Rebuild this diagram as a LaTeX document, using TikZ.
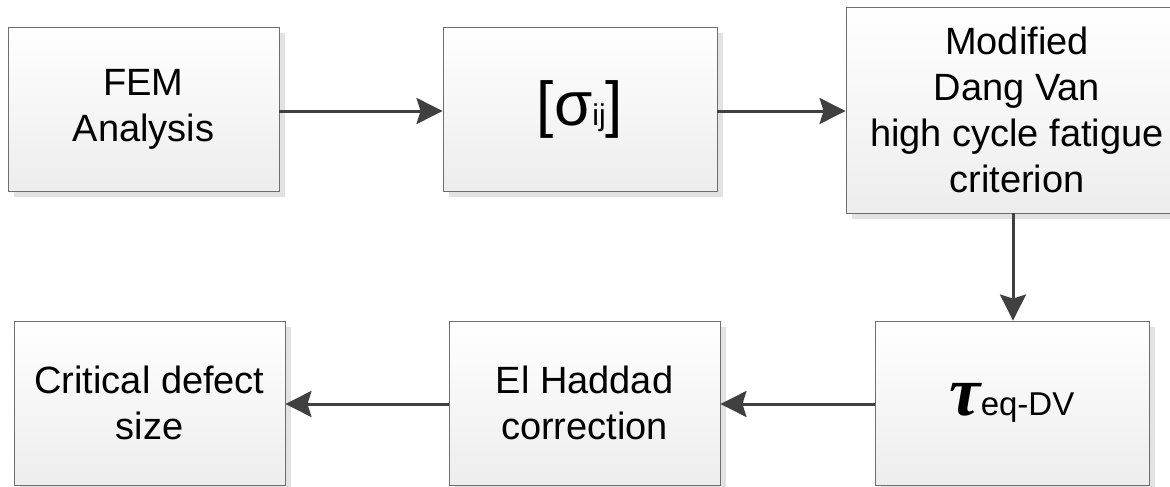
\documentclass[tikz,border=0pt]{standalone}
\usepackage{fontspec}
\setmainfont{Liberation Sans}
\newfontfamily\taufont{Liberation Serif}
\usetikzlibrary{arrows.meta,shadows}
\definecolor{boxline}{HTML}{6E6E6E}
\definecolor{shadowgray}{HTML}{E2E2E2}
\definecolor{boxbottom}{HTML}{EDEDED}
\definecolor{arrowgray}{HTML}{404040}
\tikzset{
  flowbox/.style={draw=boxline, line width=0.9pt, rectangle, inner sep=0pt,
    top color=white, bottom color=boxbottom,
    drop shadow={shadow xshift=6pt, shadow yshift=-6pt, fill=shadowgray, opacity=1},
    align=center, font=\fontsize{38}{46}\selectfont, text=black},
  flowarrow/.style={draw=arrowgray, line width=3pt,
    -{Stealth[length=26pt, width=26pt, inset=4pt]}}
}
\begin{document}
\begin{tikzpicture}[x=1pt, y=-1pt]
\useasboundingbox (0,0) rectangle (1170,487);
\node[flowbox, minimum width=271pt, minimum height=164pt] (fem) at (143.5,109) {FEM\\Analysis};
\node[flowbox, minimum width=274pt, minimum height=164pt] (sig) at (580,109)
  {{\fontsize{62}{62}\selectfont [σ}{\fontsize{30}{30}\selectfont ij}{\fontsize{62}{62}\selectfont ]}};
\node[flowbox, minimum width=342pt, minimum height=206pt] (dv) at (1017,110)
  {Modified\\Dang Van\\high cycle fatigue\\criterion};
\node[flowbox, minimum width=274pt, minimum height=164pt] (tau) at (1012,403)
  {{\fontsize{70}{70}\selectfont\taufont\bfseries\itshape τ}{\fontsize{33}{33}\selectfont eq-DV}};
\node[flowbox, minimum width=271pt, minimum height=164pt] (eh) at (584.5,403)
  {El Haddad\\correction};
\node[flowbox, minimum width=271pt, minimum height=164pt] (cds) at (149.5,403)
  {Critical defect\\size};
\draw[flowarrow] (fem.east |- 0,111) -- (sig.west |- 0,111);
\draw[flowarrow] (sig.east |- 0,111) -- (dv.west |- 0,111);
\draw[flowarrow] (dv.south -| 1013,0) -- (tau.north -| 1013,0);
\draw[flowarrow] (tau.west |- 0,404) -- (eh.east |- 0,404);
\draw[flowarrow] (eh.west |- 0,404) -- (cds.east |- 0,404);
\end{tikzpicture}
\end{document}
